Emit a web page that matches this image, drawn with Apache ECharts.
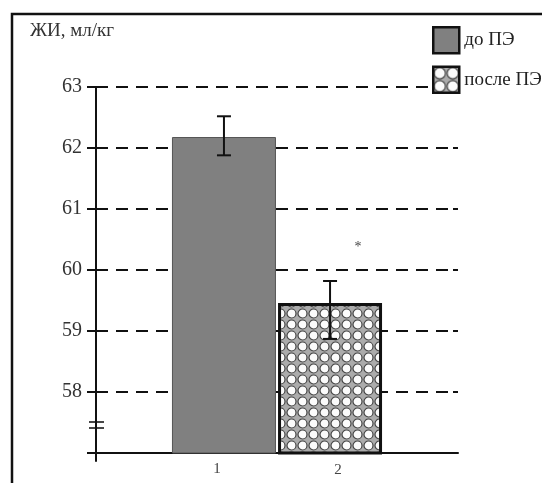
<!DOCTYPE html>
<html>
<head>
<meta charset="utf-8">
<script src="https://cdn.jsdelivr.net/npm/echarts@6/dist/echarts.min.js"></script>
<style>
  html, body { margin: 0; padding: 0; background: #fff; }
  #chart { width: 542px; height: 483px; }
</style>
</head>
<body>
<div id="chart"></div>
<script>
// Residual lung volume before and after plasma exchange
const seriesNames = ['до ПЭ', 'после ПЭ'];
const barNumbers = ['1', '2'];
const means = [62.18, 59.46];
const errLow = [61.88, 58.87];
const errHigh = [62.52, 59.82];
const marks = ['', '*'];
const yMin = 57, yMax = 63, yStep = 1;
const yTickLabels = ['58', '59', '60', '61', '62', '63'];
const titleText = 'ЖИ, мл/кг';

const SERIF = '"Liberation Serif", "DejaVu Serif", serif';

// circle-grid fill used for the "after" bar
function circlePattern(size, r) {
  const c = document.createElement('canvas');
  c.width = size; c.height = size;
  const g = c.getContext('2d');
  g.fillStyle = '#ababab';
  g.fillRect(0, 0, size, size);
  g.beginPath();
  g.arc(size / 2, size / 2, r, 0, Math.PI * 2);
  g.fillStyle = '#fbfbfb';
  g.fill();
  g.lineWidth = 1.2;
  g.strokeStyle = '#444';
  g.stroke();
  return c;
}
const barPattern = { image: circlePattern(11, 4.5), repeat: 'repeat' };
const legendPattern = { image: circlePattern(13, 5.6), repeat: 'repeat' };

const BAR_W = 104;

const chart = echarts.init(document.getElementById('chart'), null, { renderer: 'canvas' });

chart.setOption({
  backgroundColor: '#fff',
  animation: false,
  title: {
    text: titleText,
    left: 25, top: 17,
    textStyle: { fontFamily: SERIF, fontSize: 19, fontWeight: 'normal', color: '#333' }
  },
  legend: {
    orient: 'vertical',
    left: 427, top: 21,
    itemWidth: 26, itemHeight: 26, itemGap: 11,
    icon: 'rect',
    textStyle: { fontFamily: SERIF, fontSize: 19, color: '#222' },
    data: [
      { name: seriesNames[0], itemStyle: { color: '#808080', borderColor: '#111', borderWidth: 2.5 } },
      { name: seriesNames[1], itemStyle: { color: legendPattern, borderColor: '#111', borderWidth: 2.5 } }
    ]
  },
  grid: [
    { left: 96, right: 84, top: 87, bottom: 30 },
    { left: 96, right: 84, top: 87, bottom: 22 }
  ],
  xAxis: [
    {
      type: 'category', gridIndex: 0, data: [''],
      axisLine: { lineStyle: { color: '#111', width: 2 } },
      axisTick: { show: false },
      axisLabel: { show: false }
    },
    { type: 'category', gridIndex: 1, data: [''], show: false }
  ],
  yAxis: [
    {
      type: 'value', gridIndex: 0, min: yMin, max: yMax, interval: yStep,
      axisLine: { show: true, lineStyle: { color: '#111', width: 2 } },
      axisTick: { show: true, length: 9, lineStyle: { color: '#111', width: 2 } },
      axisLabel: {
        margin: 14,
        fontFamily: SERIF, fontSize: 20, color: '#333',
        formatter: v => (yTickLabels.indexOf(String(v)) >= 0 ? String(v) : '')
      },
      splitLine: { show: true, lineStyle: { color: '#111', width: 2, type: [12, 8] } }
    },
    {
      type: 'value', gridIndex: 0, min: yMin, max: yMax, interval: yStep,
      axisLine: { show: false },
      axisTick: { show: true, inside: true, length: 5, lineStyle: { color: '#111', width: 2 } },
      axisLabel: { show: false },
      splitLine: { show: false }
    },
    {
      type: 'value', gridIndex: 1, min: 0, max: 1,
      axisLine: { show: true, lineStyle: { color: '#111', width: 2 } },
      axisTick: { show: false }, axisLabel: { show: false }, splitLine: { show: false }
    }
  ],
  series: [
    {
      name: seriesNames[0], type: 'bar', xAxisIndex: 0, yAxisIndex: 0,
      barWidth: BAR_W, barGap: '2%',
      data: [means[0]],
      itemStyle: { color: '#808080', borderColor: '#555', borderWidth: 1 },
      label: {
        show: true, position: 'bottom', distance: 8, offset: [-7, 0],
        formatter: barNumbers[0],
        fontFamily: SERIF, fontSize: 15, color: '#444'
      },
      z: 3
    },
    {
      name: seriesNames[1], type: 'bar', xAxisIndex: 0, yAxisIndex: 0,
      barWidth: BAR_W, barGap: '2%',
      data: [means[1]],
      itemStyle: { color: barPattern, borderColor: '#111', borderWidth: 3 },
      label: {
        show: true, position: 'bottom', distance: 8, offset: [8, 0],
        formatter: barNumbers[1],
        fontFamily: SERIF, fontSize: 15, color: '#444'
      },
      z: 3
    },
    {
      // error bars and significance mark
      type: 'custom', xAxisIndex: 0, yAxisIndex: 0, z: 5,
      data: means.map((m, i) => [0, m, errLow[i], errHigh[i], i]),
      encode: { x: 0, y: [2, 3] },
      renderItem: function (params, api) {
        const idx = api.value(4);
        const base = api.coord([0, api.value(1)]);
        const gap = BAR_W * 0.02;
        const cx = base[0] + (idx === 0 ? -(BAR_W + gap) / 2 : (BAR_W + gap) / 2);
        const lo = api.coord([0, api.value(2)])[1];
        const hi = api.coord([0, api.value(3)])[1];
        const cap = 7;
        const st = { stroke: '#111', lineWidth: 2 };
        const children = [
          { type: 'line', shape: { x1: cx, y1: hi, x2: cx, y2: lo }, style: st },
          { type: 'line', shape: { x1: cx - cap, y1: hi, x2: cx + cap, y2: hi }, style: st },
          { type: 'line', shape: { x1: cx - cap, y1: lo, x2: cx + cap, y2: lo }, style: st }
        ];
        if (marks[idx]) {
          children.push({
            type: 'text',
            style: {
              text: marks[idx], x: cx + 28, y: hi - 34,
              fontFamily: SERIF, fontSize: 14, fill: '#444',
              align: 'center', verticalAlign: 'middle'
            }
          });
        }
        return { type: 'group', children: children };
      }
    }
  ],
  graphic: [
    {
      // panel frame
      type: 'rect', silent: true, z: 0,
      shape: { x: 12, y: 14, width: 560, height: 500 },
      style: { fill: null, stroke: '#111', lineWidth: 2.5 }
    },
    {
      // axis break sign
      type: 'group', z: 10,
      children: [
        { type: 'line', shape: { x1: 89, y1: 422, x2: 104, y2: 422 }, style: { stroke: '#333', lineWidth: 1.8 } },
        { type: 'line', shape: { x1: 89, y1: 428, x2: 104, y2: 428 }, style: { stroke: '#333', lineWidth: 1.8 } }
      ]
    }
  ]
});
</script>
</body>
</html>
